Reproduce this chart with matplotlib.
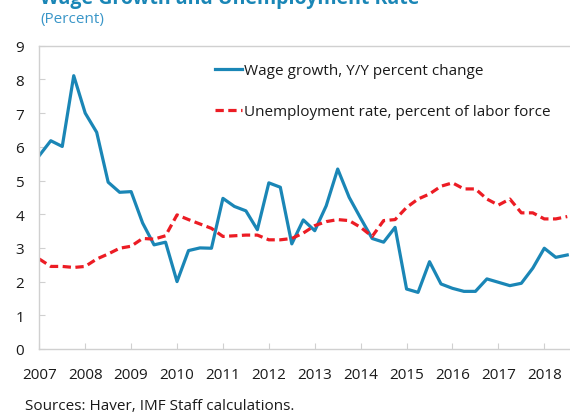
import numpy as np
import matplotlib
matplotlib.use("Agg")
import matplotlib.pyplot as plt

plt.rcParams["font.family"] = ["Open Sans", "DejaVu Sans"]

# Quarterly data, 2007Q1 to 2018Q3
start_year = 2007
wage_growth = [5.74, 6.18, 6.01, 8.11, 7.00, 6.43, 4.95, 4.65, 4.67, 3.74,
               3.09, 3.17, 2.00, 2.92, 3.00, 2.99, 4.47, 4.23, 4.10, 3.54,
               4.93, 4.80, 3.12, 3.83, 3.51, 4.25, 5.34, 4.50, 3.88, 3.28,
               3.17, 3.61, 1.78, 1.68, 2.59, 1.93, 1.80, 1.71, 1.71, 2.08,
               1.98, 1.88, 1.95, 2.40, 2.99, 2.72, 2.79]
unemployment = [2.67, 2.45, 2.45, 2.42, 2.45, 2.67, 2.82, 2.99, 3.05, 3.28,
                3.26, 3.36, 3.98, 3.84, 3.71, 3.58, 3.34, 3.36, 3.38, 3.38,
                3.24, 3.24, 3.28, 3.44, 3.66, 3.78, 3.84, 3.81, 3.61, 3.34,
                3.81, 3.84, 4.20, 4.45, 4.60, 4.83, 4.93, 4.75, 4.75, 4.45,
                4.27, 4.45, 4.04, 4.04, 3.86, 3.86, 3.93]
year_ticks = list(range(2007, 2019))
y_ticks = list(range(0, 10))

labels = ["Wage growth, Y/Y percent change",
          "Unemployment rate, percent of labor force"]

quarters = start_year + np.arange(len(wage_growth)) * 0.25

blue = "#1a86b6"
red = "#ec1c24"
title_blue = "#1a86b6"
grey = "#d0d0d0"

fig = plt.figure(figsize=(5.70, 4.14), dpi=100)
ax = fig.add_axes([39.3 / 570, 1 - 350 / 414, 1 - 39.3 / 570, (350 - 46.7) / 414])

ax.plot(quarters, wage_growth, color=blue, lw=2.3, label=labels[0])
ax.plot(quarters, unemployment, color=red, lw=2.3, ls=(0, (2.6, 1.4)),
        label=labels[1])

ax.set_xlim(2007, 2018.56)
ax.set_ylim(0, 9)
ax.set_xticks(year_ticks)
ax.set_yticks(y_ticks)

for side in ["left", "bottom", "top"]:
    ax.spines[side].set_color(grey)
    ax.spines[side].set_linewidth(1.0)
ax.spines["right"].set_visible(False)

ax.tick_params(axis="both", direction="in", length=4, color=grey,
               labelsize=11, labelcolor="#1a1a1a")
ax.tick_params(axis="y", pad=11)
ax.tick_params(axis="x", pad=13)

leg = ax.legend(loc="upper left", bbox_to_anchor=(0.3195, 0.963), frameon=False,
                fontsize=11, handlelength=1.75, handletextpad=0.15,
                labelspacing=1.7, borderaxespad=0)
for t in leg.get_texts():
    t.set_color("#1a1a1a")

fig.text(40 / 570, 1 - 4 / 414, "Wage Growth and Unemployment Rate",
         color=title_blue, fontsize=14, fontweight="bold", va="baseline")
fig.text(40 / 570, 1 - 23 / 414, "(Percent)", color="#3a96c8",
         fontsize=11, va="baseline")
fig.text(25 / 570, 1 - 410 / 414, "Sources: Haver, IMF Staff calculations.",
         color="#1a1a1a", fontsize=11, va="baseline")

fig.savefig("out.png", dpi=100)
